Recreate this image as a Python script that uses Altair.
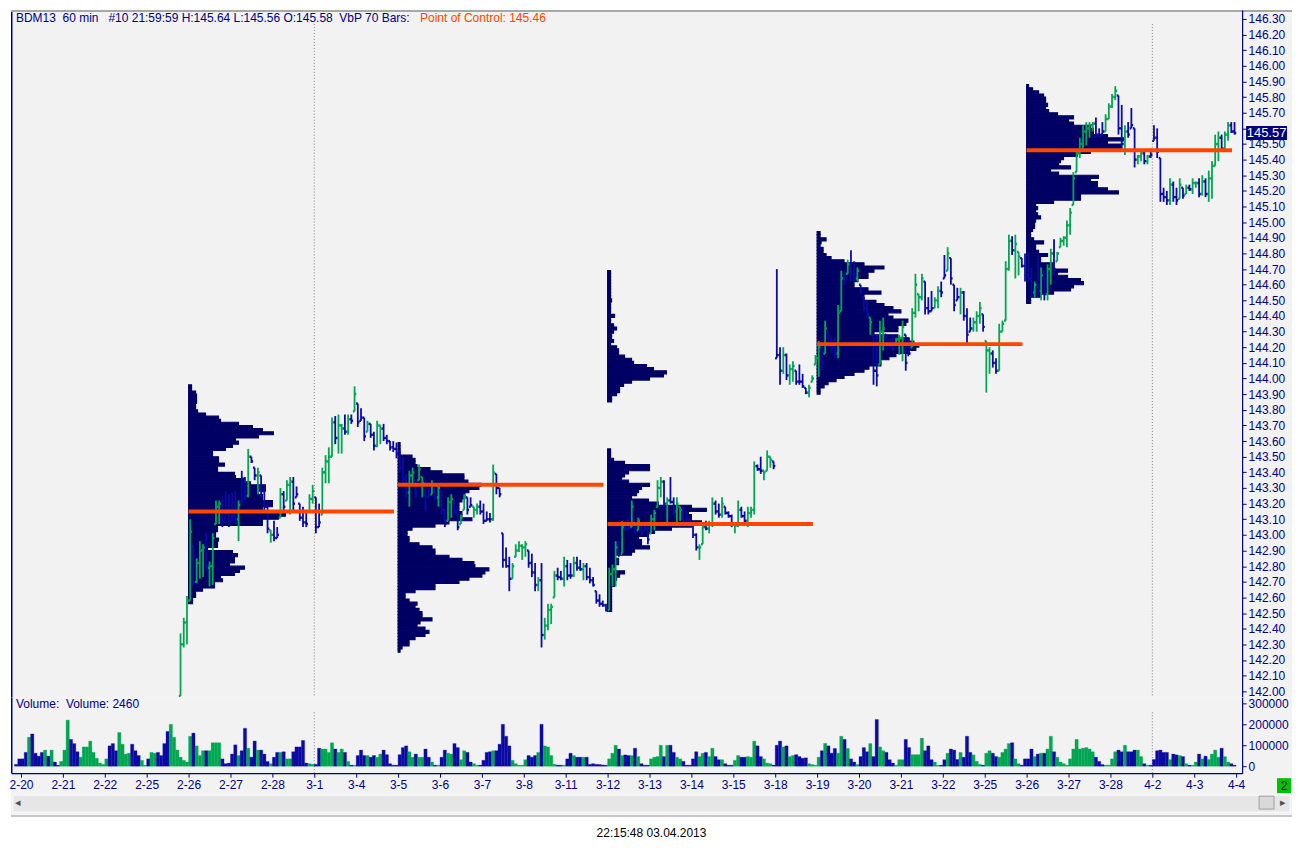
import altair as alt
import pandas as pd

FONT = "Liberation Sans"
NAVY = "#000080"
UP = "#00a651"
DOWN = "#0b0ba3"
PROFILE = "#000064"
POC_COLOR = "#ff4500"
BG = "#f2f2f2"

# ---------------- data ----------------
DATES = ["2-20", "2-21", "2-22", "2-25", "2-26", "2-27", "2-28", "3-1", "3-4", "3-5",
         "3-6", "3-7", "3-8", "3-11", "3-12", "3-13", "3-14", "3-15", "3-18", "3-19",
         "3-20", "3-21", "3-22", "3-25", "3-26", "3-27", "3-28", "4-2", "4-3", "4-4"]
BARS_PER_DAY = 13

# volume (thousands of contracts) per hourly bar
PREV_TAIL_VOLUME = [9, 35]          # last two bars of 2-19
PREV_TAIL_DIRS = "bb"
VOLUME = [
    [35, 66, 138, 154, 62, 48, 66, 77, 48, 77, 20, 5, 23],      # 2-20
    [77, 220, 128, 108, 69, 43, 92, 92, 120, 66, 38, 15, 9],    # 2-21
    [35, 97, 108, 74, 161, 105, 58, 62, 105, 74, 51, 28, 5],    # 2-22
    [35, 66, 62, 66, 51, 108, 166, 200, 138, 77, 43, 28, 20],   # 2-25
    [143, 158, 97, 51, 74, 74, 74, 112, 112, 112, 35, 12, 15],  # 2-26
    [58, 102, 51, 74, 181, 86, 43, 120, 77, 77, 58, 23, 12],    # 2-27
    [43, 66, 66, 69, 35, 35, 69, 92, 92, 123, 15, 12, 9],       # 2-28
    [9, 86, 82, 82, 66, 112, 82, 66, 82, 66, 23, 5, 5],         # 3-1
    [51, 77, 51, 51, 43, 51, 43, 58, 77, 55, 12, 5, 5],         # 3-4
    [55, 89, 97, 69, 43, 58, 43, 43, 82, 43, 20, 5, 5],         # 3-5
    [43, 77, 62, 58, 108, 89, 31, 74, 66, 20, 12, 5, 5],        # 3-6
    [28, 66, 69, 74, 74, 105, 200, 143, 97, 28, 12, 5, 5],      # 3-7
    [31, 51, 43, 51, 66, 200, 97, 92, 51, 9, 5, 5, 5],          # 3-8
    [35, 62, 51, 43, 43, 43, 43, 9, 12, 9, 8, 6, 5],            # 3-11
    [35, 62, 100, 82, 51, 54, 51, 51, 86, 46, 12, 5, 5],        # 3-12
    [35, 43, 46, 100, 46, 100, 100, 66, 43, 35, 23, 5, 5],      # 3-13
    [35, 69, 46, 62, 66, 46, 86, 46, 31, 31, 12, 5, 5],         # 3-14
    [28, 51, 43, 43, 46, 43, 120, 97, 46, 35, 15, 12, 5],       # 3-15
    [100, 120, 92, 97, 46, 51, 55, 46, 38, 40, 12, 8, 5],       # 3-18
    [43, 74, 109, 97, 62, 85, 62, 143, 128, 85, 35, 20, 8],     # 3-19
    [46, 89, 69, 108, 46, 223, 92, 74, 66, 31, 15, 5, 31],      # 3-20
    [31, 128, 89, 55, 55, 55, 134, 74, 97, 31, 20, 5, 5],       # 3-21
    [31, 62, 82, 77, 32, 66, 43, 143, 66, 54, 23, 9, 5],        # 3-22
    [62, 74, 62, 46, 43, 66, 82, 108, 112, 35, 12, 5, 35],      # 3-25
    [35, 82, 46, 58, 62, 62, 82, 143, 69, 43, 20, 12, 5],       # 3-26
    [35, 82, 128, 82, 86, 89, 82, 69, 43, 23, 8, 5, 5],         # 3-27
    [35, 69, 77, 69, 100, 69, 69, 77, 77, 46, 12, 5, 5],        # 3-28
    [32, 74, 77, 66, 66, 32, 58, 54, 51, 46, 12, 5, 5],         # 4-2
    [20, 58, 35, 48, 32, 58, 77, 43, 86, 46, 20, 12, 5],        # 4-3
]
# up (g) / down (b) for bars whose prices are below the visible range
PRE_DIRS = ["bbgbbbbgbgbbg", "ggbbbgggggggg", "gbbbggggbbbgg", "bggbbbbggg"]

# hourly price bars, from 2-25 bar 11 to 4-3 bar 13
PRICE_START_DAY = 3
PRICE_START_BAR = 10
HIGH = [
    [142.37, 142.47, 142.61],
    [143.10, 142.93, 142.85, 142.96, 142.94, 143.01, 142.83, 143.01, 143.22, 143.22, 143.24, 143.28, 143.26],
    [143.27, 143.28, 143.22, 143.41, 143.37, 143.55, 143.50, 143.43, 143.43, 143.38, 143.32, 143.21, 143.03],
    [143.09, 143.05, 143.30, 143.28, 143.35, 143.37, 143.37, 143.31, 143.20, 143.18, 143.16, 143.26, 143.32],
    [143.24, 143.20, 143.43, 143.51, 143.56, 143.75, 143.76, 143.77, 143.71, 143.77, 143.77, 143.77, 143.95],
    [143.84, 143.81, 143.75, 143.73, 143.71, 143.66, 143.73, 143.70, 143.71, 143.64, 143.60, 143.60, 143.59],
    [143.54, 143.50, 143.39, 143.41, 143.43, 143.35, 143.45, 143.37, 143.35, 143.30, 143.35, 143.30, 143.33],
    [143.28, 143.16, 143.24, 143.26, 143.22, 143.18, 143.13, 143.26, 143.24, 143.24, 143.18, 143.20, 143.22],
    [143.20, 143.15, 143.14, 143.45, 143.39, 143.30, 143.01, 142.92, 142.86, 142.82, 142.94, 142.96, 142.94],
    [142.96, 142.90, 142.88, 142.82, 142.73, 142.82, 142.47, 142.56, 142.56, 142.77, 142.79, 142.77, 142.86],
    [142.84, 142.82, 142.86, 142.86, 142.84, 142.82, 142.82, 142.79, 142.73, 142.64, 142.62, 142.58, 142.56],
    [142.79, 142.81, 142.96, 142.96, 143.09, 143.09, 143.11, 143.22, 143.09, 143.11, 143.07, 143.07, 143.05],
    [143.13, 143.16, 143.35, 143.37, 143.35, 143.24, 143.37, 143.24, 143.24, 143.18, 143.18, 143.15, 143.11],
    [143.07, 143.01, 142.94, 143.07, 143.09, 143.09, 143.24, 143.22, 143.20, 143.24, 143.18, 143.15, 143.13],
    [143.07, 143.22, 143.18, 143.15, 143.18, 143.18, 143.47, 143.45, 143.50, 143.41, 143.54, 143.50, 143.47],
    [144.70, 144.20, 144.20, 144.16, 144.09, 144.11, 144.05, 144.09, 144.03, 143.94, 143.96, 144.02, 144.15],
    [144.24, 144.22, 144.37, 144.30, 144.26, 144.26, 144.47, 144.69, 144.67, 144.76, 144.82, 144.75, 144.71],
    [144.60, 144.52, 144.50, 144.39, 144.28, 144.28, 144.37, 144.39, 144.28, 144.26, 144.28, 144.26, 144.28],
    [144.37, 144.28, 144.26, 144.45, 144.67, 144.54, 144.67, 144.62, 144.52, 144.56, 144.52, 144.59, 144.62],
    [144.79, 144.84, 144.77, 144.60, 144.58, 144.58, 144.56, 144.45, 144.39, 144.39, 144.43, 144.49, 144.41],
    [144.24, 144.20, 144.18, 144.13, 144.35, 144.37, 144.75, 144.92, 144.91, 144.92, 144.81, 144.77, 144.80],
    [144.81, 144.71, 144.62, 144.79, 144.71, 144.69, 144.73, 144.83, 144.89, 144.81, 144.90, 144.91, 145.01],
    [145.09, 145.32, 145.47, 145.54, 145.62, 145.64, 145.64, 145.64, 145.67, 145.60, 145.64, 145.69, 145.76],
    [145.82, 145.87, 145.81, 145.75, 145.62, 145.64, 145.73, 145.60, 145.43, 145.45, 145.45, 145.43, 145.47],
    [145.62, 145.60, 145.41, 145.22, 145.20, 145.28, 145.26, 145.22, 145.28, 145.22, 145.24, 145.24, 145.28],
    [145.26, 145.28, 145.30, 145.28, 145.33, 145.39, 145.56, 145.58, 145.56, 145.58, 145.64, 145.64, 145.64],
]
LOW = [
    [141.97, 142.28, 142.30],
    [142.58, 142.67, 142.69, 142.72, 142.73, 142.77, 142.67, 142.68, 143.07, 143.07, 143.05, 143.11, 143.05],
    [143.09, 143.07, 142.96, 143.20, 143.21, 143.24, 143.46, 143.35, 143.26, 143.24, 143.15, 143.01, 142.95],
    [142.96, 142.98, 143.11, 143.15, 143.22, 143.13, 143.15, 143.24, 143.09, 143.05, 143.05, 143.15, 143.20],
    [143.01, 143.05, 143.13, 143.33, 143.33, 143.50, 143.58, 143.52, 143.52, 143.64, 143.64, 143.71, 143.79],
    [143.69, 143.73, 143.60, 143.66, 143.62, 143.54, 143.56, 143.58, 143.60, 143.58, 143.54, 143.53, 143.49],
    [143.40, 143.33, 143.24, 143.18, 143.33, 143.24, 143.35, 143.24, 143.15, 143.24, 143.26, 143.22, 143.18],
    [143.13, 143.05, 143.09, 143.11, 143.13, 143.03, 143.07, 143.16, 143.13, 143.18, 143.11, 143.13, 143.13],
    [143.07, 143.09, 143.08, 143.09, 143.26, 143.24, 142.79, 142.79, 142.64, 142.72, 142.86, 142.89, 142.84],
    [142.86, 142.79, 142.73, 142.64, 142.64, 142.28, 142.33, 142.39, 142.43, 142.60, 142.71, 142.71, 142.67],
    [142.71, 142.72, 142.73, 142.77, 142.77, 142.71, 142.71, 142.69, 142.67, 142.56, 142.54, 142.54, 142.51],
    [142.52, 142.67, 142.67, 142.86, 142.88, 143.03, 143.03, 143.05, 143.01, 143.03, 142.99, 143.03, 142.94],
    [143.01, 143.03, 143.18, 143.24, 143.16, 143.07, 143.20, 143.13, 143.07, 143.09, 143.07, 143.09, 143.05],
    [142.98, 142.90, 142.84, 142.94, 143.03, 143.01, 143.05, 143.13, 143.11, 143.11, 143.13, 143.11, 143.05],
    [143.01, 143.05, 143.11, 143.07, 143.05, 143.11, 143.13, 143.41, 143.39, 143.35, 143.41, 143.43, 143.42],
    [144.13, 143.96, 144.03, 143.99, 143.96, 143.98, 143.96, 143.96, 143.94, 143.90, 143.88, 143.98, 144.09],
    [144.01, 144.05, 144.16, 144.20, 144.16, 144.13, 144.13, 144.43, 144.60, 144.67, 144.62, 144.62, 144.62],
    [144.54, 144.43, 144.39, 144.28, 143.96, 143.95, 144.09, 144.18, 144.20, 144.20, 144.18, 144.22, 144.15],
    [144.11, 144.05, 144.15, 144.20, 144.39, 144.43, 144.50, 144.41, 144.41, 144.43, 144.45, 144.45, 144.52],
    [144.64, 144.69, 144.60, 144.43, 144.50, 144.41, 144.37, 144.22, 144.30, 144.30, 144.30, 144.35, 144.30],
    [143.91, 144.03, 144.07, 144.03, 144.05, 144.30, 144.37, 144.69, 144.79, 144.64, 144.66, 144.71, 144.62],
    [144.62, 144.52, 144.52, 144.52, 144.50, 144.50, 144.50, 144.60, 144.66, 144.75, 144.84, 144.85, 144.84],
    [144.92, 145.11, 145.32, 145.41, 145.45, 145.49, 145.54, 145.58, 145.54, 145.54, 145.56, 145.58, 145.66],
    [145.73, 145.78, 145.56, 145.45, 145.43, 145.54, 145.60, 145.35, 145.37, 145.39, 145.37, 145.37, 145.41],
    [145.52, 145.41, 145.13, 145.13, 145.11, 145.11, 145.13, 145.11, 145.15, 145.15, 145.18, 145.20, 145.18],
    [145.22, 145.16, 145.17, 145.16, 145.13, 145.15, 145.36, 145.39, 145.45, 145.46, 145.52, 145.57, 145.56],
]
CLOSE = [
    [142.30, 142.44, 142.58],
    [143.02, 142.70, 142.82, 142.90, 142.92, 142.79, 142.80, 142.98, 143.18, 143.20, 143.09, 143.14, 143.08],
    [143.12, 143.10, 143.19, 143.36, 143.25, 143.50, 143.47, 143.38, 143.40, 143.28, 143.18, 143.04, 143.00],
    [142.98, 143.00, 143.26, 143.18, 143.32, 143.34, 143.20, 143.26, 143.11, 143.08, 143.07, 143.23, 143.28],
    [143.05, 143.08, 143.40, 143.47, 143.50, 143.72, 143.62, 143.70, 143.68, 143.66, 143.74, 143.73, 143.90],
    [143.72, 143.75, 143.63, 143.71, 143.64, 143.57, 143.70, 143.68, 143.62, 143.60, 143.56, 143.55, 143.52],
    [143.43, 143.36, 143.27, 143.38, 143.40, 143.26, 143.42, 143.33, 143.18, 143.26, 143.32, 143.24, 143.30],
    [143.16, 143.07, 143.21, 143.23, 143.15, 143.05, 143.11, 143.24, 143.16, 143.19, 143.16, 143.18, 143.15],
    [143.09, 143.10, 143.10, 143.40, 143.30, 143.26, 142.84, 142.80, 142.72, 142.80, 142.90, 142.93, 142.92],
    [142.94, 142.82, 142.76, 142.68, 142.71, 142.36, 142.42, 142.52, 142.54, 142.74, 142.73, 142.72, 142.80],
    [142.74, 142.74, 142.82, 142.79, 142.78, 142.80, 142.73, 142.71, 142.68, 142.58, 142.56, 142.55, 142.52],
    [142.75, 142.78, 142.92, 142.88, 143.05, 143.04, 143.04, 143.18, 143.03, 143.09, 143.01, 143.04, 142.97],
    [143.10, 143.14, 143.30, 143.34, 143.20, 143.22, 143.21, 143.15, 143.20, 143.16, 143.09, 143.10, 143.06],
    [143.00, 142.92, 142.92, 143.05, 143.04, 143.07, 143.20, 143.15, 143.13, 143.20, 143.14, 143.12, 143.07],
    [143.06, 143.16, 143.12, 143.09, 143.14, 143.16, 143.44, 143.42, 143.41, 143.40, 143.50, 143.48, 143.44],
    [144.15, 144.05, 144.15, 144.02, 144.06, 144.08, 143.98, 143.98, 143.95, 143.91, 143.94, 144.00, 144.13],
    [144.20, 144.10, 144.32, 144.22, 144.20, 144.16, 144.42, 144.64, 144.62, 144.73, 144.66, 144.64, 144.69],
    [144.55, 144.45, 144.41, 144.36, 144.05, 144.02, 144.30, 144.32, 144.22, 144.21, 144.19, 144.25, 144.26],
    [144.33, 144.10, 144.16, 144.42, 144.60, 144.52, 144.64, 144.45, 144.43, 144.45, 144.50, 144.56, 144.55],
    [144.66, 144.80, 144.64, 144.47, 144.52, 144.55, 144.40, 144.28, 144.32, 144.36, 144.40, 144.45, 144.33],
    [144.18, 144.16, 144.10, 144.05, 144.30, 144.35, 144.70, 144.88, 144.82, 144.86, 144.78, 144.72, 144.66],
    [144.64, 144.55, 144.60, 144.56, 144.66, 144.54, 144.70, 144.80, 144.70, 144.80, 144.88, 144.90, 144.98],
    [145.06, 145.28, 145.44, 145.50, 145.58, 145.60, 145.62, 145.63, 145.56, 145.55, 145.58, 145.66, 145.74],
    [145.80, 145.84, 145.60, 145.50, 145.58, 145.56, 145.62, 145.40, 145.42, 145.44, 145.39, 145.42, 145.43],
    [145.54, 145.45, 145.18, 145.16, 145.14, 145.24, 145.16, 145.14, 145.24, 145.17, 145.22, 145.21, 145.25],
    [145.25, 145.18, 145.26, 145.18, 145.28, 145.36, 145.50, 145.54, 145.47, 145.56, 145.62, 145.58, 145.57],
]
DIRS = ["ggg", "gbgggbggggbbb", "bbgbbgbbgbbbg", "bbgbggbbbbbgg", "bbggggbggbgbg",
        "bbbgbbggbbbbb", "bbbggbggbbgbg", "bbggbbggbbggb", "bbbgbbbbbgggg",
        "gbbbgbggggbbg", "bbgbbgbbbbbbb", "gggbgbbgbgbbb", "ggggbgbbggbbb",
        "bbggbggbbgbbb", "ggbbgggbbgggb", "bbgbggbbbbggg", "gbgbbbggbgbbg",
        "bbbgbbggbbbgg", "gbbggggbbbggb", "bgbbbgbbbgggb", "ggbbggggbggbb",
        "bbgbgbggbgggg", "ggggggggbbbgg", "ggbbgbbbggbgb", "bbbbbgbbgbgbg",
        "gbgbggggbggbb"]
LAST_PRICE = 145.57

# volume-by-price profiles (rows of 0.02, listed from the top row down)
PRICE_STEP = 0.02
PROFILE_START_DAYS = [4, 9, 14, 14, 19, 24]
PROFILE_TOP_PRICES = [143.96, 143.59, 143.55, 144.69, 144.94, 145.88]
PROFILE_VOLUMES = [
    [3, 3, 7, 8, 8, 8, 7, 7, 9, 17, 30, 32, 50, 64, 74, 85, 70, 47, 50, 44,
     37, 24, 24, 30, 30, 36, 29, 29, 46, 47, 55, 62, 77, 77, 70, 74, 74, 84, 84, 74,
     74, 97, 90, 74, 74, 29, 29, 27, 27, 30, 29, 29, 19, 44, 49, 46, 46, 41, 56, 51,
     46, 32, 34, 26, 26, 14, 7, 7, 4, 4],
    [2, 2, 2, 2, 14, 17, 17, 19, 32, 44, 66, 66, 70, 83, 81, 71, 67, 67, 64, 61,
     61, 61, 64, 64, 74, 51, 37, 14, 9, 9, 11, 11, 21, 34, 37, 37, 51, 64, 76, 77,
     91, 87, 84, 71, 61, 37, 37, 17, 7, 7, 11, 19, 17, 21, 24, 24, 34, 22, 19, 27,
     31, 27, 17, 11, 11, 4, 2],
    [3, 3, 3, 6, 17, 42, 42, 21, 17, 14, 21, 42, 34, 31, 29, 24, 41, 51, 84, 99,
     81, 84, 84, 94, 84, 64, 47, 41, 31, 34, 34, 42, 27, 24, 7, 11, 11, 7, 7, 17,
     12, 9, 7, 7, 4, 4, 4, 4, 4, 4, 4, 4],
    [3, 3, 3, 3, 3, 3, 3, 3, 3, 4, 3, 3, 3, 3, 7, 3, 3, 6, 9, 6,
     4, 4, 6, 3, 9, 11, 11, 17, 24, 26, 39, 46, 59, 56, 42, 24, 16, 12, 12, 9,
     4, 4],
    [3, 3, 9, 4, 3, 6, 6, 9, 14, 27, 47, 67, 57, 51, 51, 41, 37, 37, 51, 64,
     47, 47, 59, 67, 76, 84, 71, 76, 91, 89, 81, 81, 57, 81, 92, 97, 102, 99, 92, 79,
     72, 64, 64, 52, 47, 37, 27, 19, 11, 7, 3, 3],
    [2, 6, 12, 17, 19, 19, 21, 19, 22, 31, 47, 42, 47, 64, 67, 67, 81, 97, 81, 94,
     94, 64, 51, 37, 34, 32, 44, 24, 32, 72, 64, 71, 71, 81, 92, 54, 54, 27, 9, 11,
     9, 11, 14, 9, 8, 8, 6, 4, 4, 7, 17, 9, 9, 12, 21, 14, 14, 27, 27, 41,
     31, 41, 54, 57, 47, 44, 27, 14, 4, 4],
]
PROFILE_VOLUME_PER_DAY = 42.0   # profile volume units spanning one day of width

POC_START_DAYS = [4, 9, 14, 19, 24]
POC_PRICES = [143.15, 143.32, 143.07, 144.22, 145.46]
POC_LENGTH_DAYS = 4.9

MONTH_START_DAYS = [7, 27]

TITLE_LEFT = "BDM13\u00a0\u00a060 min\u00a0\u00a0\u00a0#10 21:59:59 H:145.64 L:145.56 O:145.58\u00a0\u00a0VbP 70 Bars:"
TITLE_RIGHT = "Point of Control: 145.46"
VOLUME_LABEL = "Volume:\u00a0\u00a0Volume: 2460"
TIMESTAMP = "22:15:48 03.04.2013"

# ---------------- frames ----------------
TICK = 1.7 / 42.0
price_rows = []
dir_lookup = {}
prev_close = None
for k, (his, los, cls, dirs) in enumerate(zip(HIGH, LOW, CLOSE, DIRS)):
    day = PRICE_START_DAY + k
    first = PRICE_START_BAR if k == 0 else 0
    for j in range(len(his)):
        i = first + j
        h, l, c = his[j], los[j], cls[j]
        o = l if prev_close is None else min(max(prev_close, l), h)
        xc = day + (i + 0.5) / BARS_PER_DAY
        price_rows.append(dict(x=xc, xl=xc - TICK, xr=xc + TICK, hi=h, lo=l, op=o, cl=c, dir=dirs[j]))
        dir_lookup[(day, i)] = dirs[j]
        prev_close = c
price_df = pd.DataFrame(price_rows)

vol_rows = []
for j, v in enumerate(PREV_TAIL_VOLUME):
    i = BARS_PER_DAY - len(PREV_TAIL_VOLUME) + j
    vol_rows.append(dict(x0=-1 + i / BARS_PER_DAY, x1=-1 + (i + 1) / BARS_PER_DAY,
                         vol=v * 1000, base=0, dir=PREV_TAIL_DIRS[j]))
for d, vols in enumerate(VOLUME):
    for i, v in enumerate(vols):
        if (d, i) in dir_lookup:
            dr = dir_lookup[(d, i)]
        else:
            dr = PRE_DIRS[d][i]
        vol_rows.append(dict(x0=d + i / BARS_PER_DAY, x1=d + (i + 1) / BARS_PER_DAY,
                             vol=v * 1000, base=0, dir=dr))
vol_df = pd.DataFrame(vol_rows)

prof_rows = []
for start, top, vols in zip(PROFILE_START_DAYS, PROFILE_TOP_PRICES, PROFILE_VOLUMES):
    for k, v in enumerate(vols):
        prof_rows.append(dict(x0=start, x1=start + v / PROFILE_VOLUME_PER_DAY,
                              ytop=top - PRICE_STEP * k, ybot=top - PRICE_STEP * (k + 1)))
prof_df = pd.DataFrame(prof_rows)

poc_df = pd.DataFrame(dict(start=POC_START_DAYS,
                           end=[s + POC_LENGTH_DAYS for s in POC_START_DAYS],
                           price=POC_PRICES))
month_df = pd.DataFrame(dict(day=MONTH_START_DAYS))
last_df = pd.DataFrame(dict(price=[LAST_PRICE], label=[f"{LAST_PRICE:.2f}"]))
one = pd.DataFrame(dict(a=[0]))

# ---------------- scales / axes ----------------
W, PH, VH = 1234, 689, 76
XMIN, XMAX = -10 / 42, 1224 / 42
PMIN, PMAX = 141.961, 146.357
VMIN, VMAX = -33300, 328600

xs = alt.Scale(domain=[XMIN, XMAX], nice=False, zero=False)
ps = alt.Scale(domain=[PMIN, PMAX], nice=False, zero=False)
vs = alt.Scale(domain=[VMIN, VMAX], nice=False, zero=False)
dir_scale = alt.Scale(domain=["g", "b"], range=[UP, DOWN])

axis_common = dict(title=None, labelColor=NAVY, domainColor=NAVY, tickColor=NAVY,
                   tickSize=4, labelPadding=2, labelFontSize=12, labelFont=FONT,
                   grid=False, zindex=1, labelOverlap=False, domainWidth=1.2)
# the axis label hidden under the last-price box is left blank
price_axis = alt.Axis(orient="right", values=[round(142 + 0.1 * k, 2) for k in range(44)],
                      labelExpr=f"abs(datum.value - {LAST_PRICE}) < 0.05 ? '' : format(datum.value, '.2f')",
                      labelFlush=False, **axis_common)
vol_axis = alt.Axis(orient="right", values=[0, 100000, 200000, 300000], format="d",
                    labelFlush=False, **axis_common)
label_expr = "[" + ",".join(f"'{d}'" for d in DATES) + "][datum.value]"
x_axis = alt.Axis(orient="bottom", values=list(range(len(DATES))), labelExpr=label_expr,
                  labelFlush=False, **axis_common)


def PX(f):
    return alt.X(f, type="quantitative", scale=xs, axis=None)


def PY(f):
    return alt.Y(f, type="quantitative", scale=ps, axis=price_axis)


def VX(f):
    return alt.X(f, type="quantitative", scale=xs, axis=x_axis)


def VY(f):
    return alt.Y(f, type="quantitative", scale=vs, axis=vol_axis)


color_enc = alt.Color("dir:N", scale=dir_scale, legend=None)

# ---------------- price panel ----------------
p_bg = alt.Chart(one).mark_rect(color=BG).encode(
    x=alt.value(0), x2=alt.value(1284), y=alt.value(0), y2=alt.value(PH))
p_prof = alt.Chart(prof_df).mark_rect(color=PROFILE, stroke=PROFILE, strokeWidth=1.1).encode(
    x=PX("x0"), x2="x1", y=PY("ytop"), y2="ybot")
p_month = alt.Chart(month_df).mark_rule(color="#808080", strokeDash=[1, 2], strokeWidth=1).encode(
    x=PX("day"), y=alt.value(14), y2=alt.value(PH))
p_hl = alt.Chart(price_df).mark_rule(strokeWidth=1.8).encode(
    x=PX("x"), y=PY("lo"), y2="hi", color=color_enc)
p_open = alt.Chart(price_df).mark_rule(strokeWidth=2.4).encode(
    x=PX("xl"), x2="x", y=PY("op"), color=color_enc)
p_close = alt.Chart(price_df).mark_rule(strokeWidth=2.4).encode(
    x=PX("x"), x2="xr", y=PY("cl"), color=color_enc)
p_poc = alt.Chart(poc_df).mark_rule(color=POC_COLOR, strokeWidth=4, strokeCap="butt").encode(
    x=PX("start"), x2="end", y=PY("price"))
p_t1 = alt.Chart(one).mark_text(text=TITLE_LEFT, align="left", baseline="middle",
                                color=NAVY, fontSize=12, font=FONT).encode(
    x=alt.value(5), y=alt.value(8))
p_t2 = alt.Chart(one).mark_text(text=TITLE_RIGHT, align="left", baseline="middle",
                                color=POC_COLOR, fontSize=12, font=FONT).encode(
    x=alt.value(410), y=alt.value(8))
p_lbox = alt.Chart(last_df).mark_rule(color=NAVY, strokeWidth=14, strokeCap="butt").encode(
    x=alt.value(1238), x2=alt.value(1279), y=PY("price"))
p_ltxt = alt.Chart(last_df).mark_text(color="white", fontSize=13, font=FONT,
                                      align="center", baseline="middle").encode(
    x=alt.value(1258.5), y=PY("price"), text="label:N")
p_left = alt.Chart(one).mark_rule(color=NAVY, strokeWidth=1.5).encode(
    x=alt.value(0.75), y=alt.value(0), y2=alt.value(PH))
p_top = alt.Chart(one).mark_rule(color="#a8a8a8", strokeWidth=2).encode(
    x=alt.value(0), x2=alt.value(1284), y=alt.value(1))

price_chart = alt.layer(p_bg, p_prof, p_month, p_hl, p_open, p_close, p_poc,
                        p_t1, p_t2, p_lbox, p_ltxt, p_left, p_top).properties(width=W, height=PH)

# ---------------- volume panel ----------------
v_bg = alt.Chart(one).mark_rect(color=BG).encode(
    x=alt.value(0), x2=alt.value(1284), y=alt.value(0), y2=alt.value(119))
v_month = alt.Chart(month_df).mark_rule(color="#808080", strokeDash=[1, 2], strokeWidth=1).encode(
    x=VX("day"), y=alt.value(15), y2=alt.value(VH))
v_bars = alt.Chart(vol_df).mark_rect(strokeWidth=0.3).encode(
    x=VX("x0"), x2="x1", y=VY("vol"), y2="base", color=color_enc,
    stroke=alt.Stroke("dir:N", scale=dir_scale, legend=None))
v_lbl = alt.Chart(one).mark_text(text=VOLUME_LABEL, align="left", baseline="middle",
                                 color=NAVY, fontSize=12, font=FONT).encode(
    x=alt.value(5), y=alt.value(7))
v_left = alt.Chart(one).mark_rule(color=NAVY, strokeWidth=1.5).encode(
    x=alt.value(0.75), y=alt.value(0), y2=alt.value(VH))
v_track = alt.Chart(one).mark_rect(color="#e6e6e6", stroke="#fafafa", strokeWidth=1).encode(
    x=alt.value(2), x2=alt.value(1282), y=alt.value(98), y2=alt.value(115))
v_thumb = alt.Chart(one).mark_rect(color="#d9d9d9", stroke="#a0a0a0", strokeWidth=1).encode(
    x=alt.value(1251), x2=alt.value(1266), y=alt.value(99), y2=alt.value(112))
v_larrow = alt.Chart(one).mark_text(text="\u25c2", color="#505050", fontSize=11,
                                    align="center", baseline="middle").encode(
    x=alt.value(7), y=alt.value(106))
v_rarrow = alt.Chart(one).mark_text(text="\u25b8", color="#505050", fontSize=11,
                                    align="center", baseline="middle").encode(
    x=alt.value(1275), y=alt.value(106))
v_gbox = alt.Chart(one).mark_rect(color="#00c000").encode(
    x=alt.value(1269), x2=alt.value(1283), y=alt.value(81), y2=alt.value(96))
v_gtxt = alt.Chart(one).mark_text(text="2", color=NAVY, fontSize=12, font=FONT,
                                  align="center", baseline="middle").encode(
    x=alt.value(1276), y=alt.value(89))
v_edge = alt.Chart(one).mark_rule(color="#c8c8c8", strokeWidth=2).encode(
    x=alt.value(0), x2=alt.value(1284), y=alt.value(119))
v_time = alt.Chart(one).mark_text(text=TIMESTAMP, color="black", fontSize=12, font=FONT,
                                  align="center", baseline="middle").encode(
    x=alt.value(642), y=alt.value(136))

volume_chart = alt.layer(v_bg, v_month, v_bars, v_lbl, v_left, v_track, v_thumb,
                         v_larrow, v_rarrow, v_gbox, v_gtxt, v_edge, v_time).properties(width=W, height=VH)

chart = alt.vconcat(price_chart, volume_chart, spacing=0, bounds="flush").properties(
    padding=0
).configure(font=FONT).configure_view(stroke=None)

chart.save("out.html", embed_options={"renderer": "svg", "actions": False})
